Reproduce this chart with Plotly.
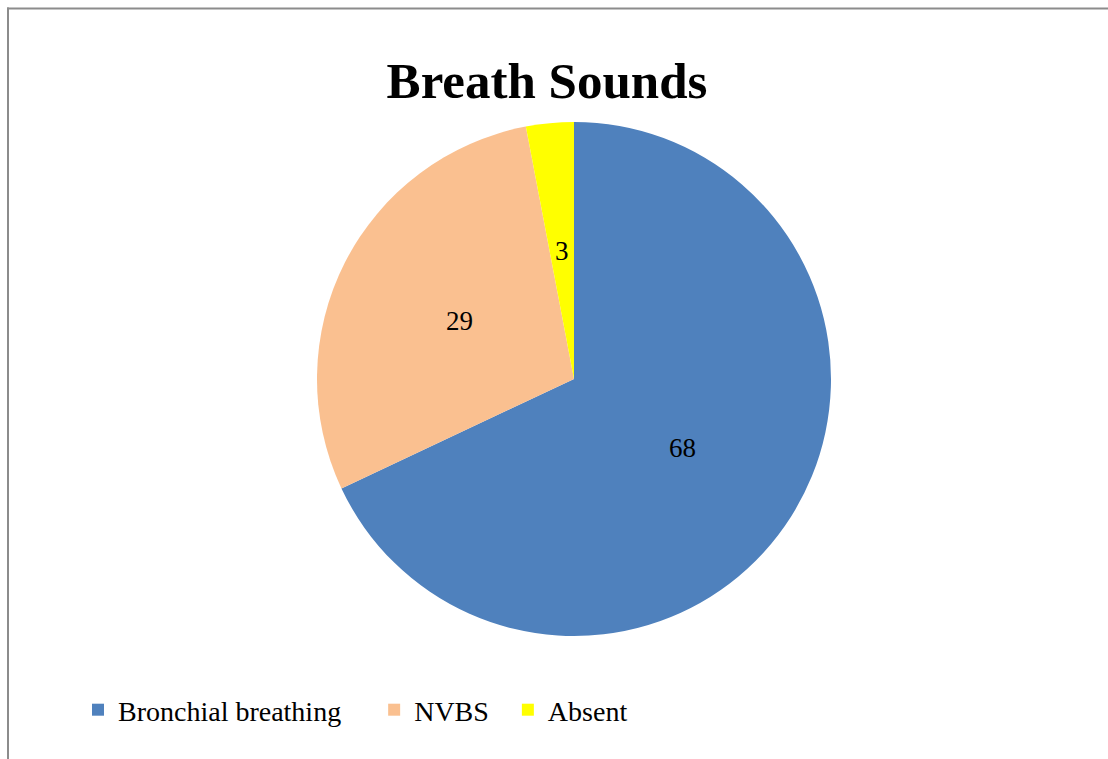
import math
import plotly.graph_objects as go

W, H = 1108, 759

categories = ["Bronchial breathing", "NVBS", "Absent"]
values = [68, 29, 3]
colors = ["#4F81BD", "#FAC090", "#FFFF00"]
title_text = "Breath Sounds"

FONT = "Liberation Serif, Times New Roman, serif"

def px_x(x):
    return x / W

def px_y(y):
    return 1 - y / H

# pie geometry (pixels)
CX, CY, R = 574, 379, 257

# legend entries: extra non-breaking spaces widen the gap between items
legend_pad = [4, 2, 0]
legend_names = [c + "\u00a0" * p for c, p in zip(categories, legend_pad)]

fig = go.Figure(
    go.Pie(
        labels=legend_names,
        values=values,
        sort=False,
        direction="clockwise",
        rotation=0,
        marker=dict(colors=colors, line=dict(width=0)),
        textinfo="none",
        domain=dict(x=[px_x(CX - R), px_x(CX + R)], y=[px_y(CY + R), px_y(CY - R)]),
        hoverinfo="label+value",
    )
)

# data labels at half radius on each slice's mid-angle (derived from values)
total = sum(values)
annotations = []
cum = 0.0
for v in values:
    mid = (cum + v / 2) / total * 2 * math.pi
    cum += v
    dx = 0.5 * R * math.sin(mid)
    dy = 0.5 * R * math.cos(mid)
    annotations.append(dict(
        x=px_x(CX + dx), y=px_y(CY - dy), xref="paper", yref="paper",
        text=str(v), showarrow=False, xanchor="center", yanchor="middle",
        font=dict(family=FONT, size=27, color="black"),
    ))

fig.update_layout(
    width=W,
    height=H,
    margin=dict(l=0, r=0, t=0, b=0),
    paper_bgcolor="white",
    plot_bgcolor="white",
    title=dict(
        text="<b>" + title_text + "</b>",
        font=dict(family=FONT, size=51, color="black"),
        x=px_x(547),
        xanchor="center",
        y=px_y(80),
        yanchor="middle",
        xref="paper",
        yref="paper",
    ),
    showlegend=True,
    legend=dict(
        orientation="h",
        x=px_x(78),
        xanchor="left",
        y=px_y(710),
        yanchor="middle",
        font=dict(family=FONT, size=28, color="black"),
        traceorder="normal",
    ),
    annotations=annotations,
    shapes=[
        dict(type="line", xref="paper", yref="paper",
             x0=px_x(7), x1=px_x(1110), y0=px_y(8.5), y1=px_y(8.5),
             line=dict(color="#8c8c8c", width=2)),
        dict(type="line", xref="paper", yref="paper",
             x0=px_x(8), x1=px_x(8), y0=px_y(7.5), y1=px_y(762),
             line=dict(color="#8c8c8c", width=2)),
    ],
)

fig.write_html("out.html")
